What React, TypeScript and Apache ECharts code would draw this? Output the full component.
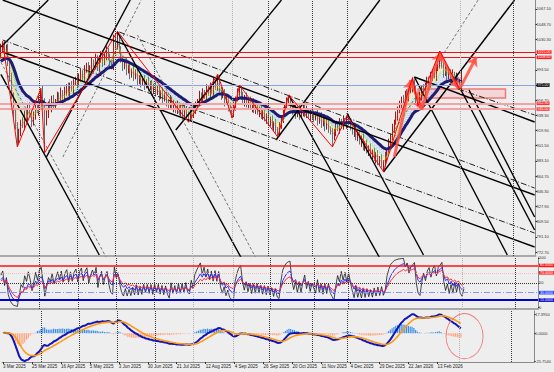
import React, { useEffect, useRef } from "react";
import * as echarts from "echarts";

// ---------- categories / tick labels ----------
const dateLabels = [
  "3 Mar 2025", "25 Mar 2025", "16 Apr 2025", "5 May 2025", "3 Jun 2025", "30 Jun 2025",
  "21 Jul 2025", "12 Aug 2025", "4 Sep 2025", "26 Sep 2025", "20 Oct 2025", "11 Nov 2025",
  "4 Dec 2025", "29 Dec 2025", "22 Jan 2026", "13 Feb 2026",
];
const barsPerLabel = 16;
const slotCount = 294;

const priceTicks = [1067.1, 1048.7, 1030.3, 1011.9, 993.5, 975.1, 956.7, 938.3, 919.9, 901.5, 883.1, 864.7, 846.3, 827.9, 809.5, 791.1, 772.7];
const hiddenTickLabels = [1011.9, 975.1];
const priceMin = 767.9;
const priceMax = 1078;

// ---------- price data (daily) ----------
const firstOpen = 1012;
const closes = [
  1019, 1024, 1015, 1021, 1003, 985, 962, 940, 925, 908,
  918, 930, 926, 940, 935, 948, 942, 930, 938, 950, 944, 958, 965, 955, 930,
  940, 952, 948, 958, 950, 955, 962, 958, 966,
  960, 968, 972, 966, 975, 970, 978, 982, 976,
  985, 990, 984, 993, 998, 990, 996, 1002,
  1000, 1008, 996, 1005, 1012, 1003, 1010, 1016,
  1008, 1000, 998, 1032, 1022, 1030,
  1018, 1005, 998, 1003, 992, 996, 988, 992,
  985, 990, 980, 984, 977, 982, 975, 979,
  972, 976, 968, 973, 966, 970, 962, 966,
  958, 962, 955, 950, 957, 948, 952, 945, 950, 942, 947, 940, 945, 938,
  936, 942, 938, 946, 950,
  955, 962, 958, 966, 962, 970, 965, 973, 968, 978, 972, 982,
  970, 962, 966, 955, 958, 948, 945, 940,
  950, 958, 965, 970,
  962, 955, 960, 952, 956, 948, 953, 945, 950, 942, 946, 938, 942, 934, 938, 930, 933, 925, 928, 920, 918,
  925, 935, 942, 950, 955, 958,
  950, 944, 948, 940, 945, 938, 943, 948, 940, 944, 937, 941,
  938, 935, 940, 932, 936, 928, 933, 925, 930, 922, 918, 912,
  918, 925, 922, 930, 926, 932, 928, 934, 930,
  925, 918, 922, 912, 915, 906, 910, 900, 904, 895, 898,
  890, 894, 886, 890, 882, 886, 878, 880,
  888, 895, 905, 912, 922, 930, 938, 945,
  950, 958, 955, 964, 960, 968, 972, 978,
  968, 958, 955,
  962, 970, 966, 975, 980, 976, 985, 990, 986, 996, 1000, 1008,
  998, 990, 994, 985, 990, 982, 988, 980, 985, 976, 972, 975,
];
const upperWicks = [
  6, 4, 5, 3, 4, 3, 5, 4, 6, 5, 4, 3, 6, 4, 5, 3, 6, 4, 5, 3,
  5, 4, 6, 10, 4, 5, 3, 6, 4, 5, 3, 5, 4, 6, 3, 5, 4, 6, 3, 5,
  4, 3, 6, 4, 5, 3, 6, 4, 5, 3, 6, 4, 5, 3, 6, 4, 5, 3, 6, 4,
  5, 6, 4, 5, 10, 6, 4, 5, 3, 6, 4, 5, 3, 6, 4, 5, 3, 6, 4, 5,
  3, 6, 4, 5, 3, 6, 4, 5, 3, 6, 4, 5, 3, 6, 4, 5, 3, 6, 4, 5,
  3, 6, 4, 5, 3, 6, 4, 5, 3, 6, 4, 5, 3, 6, 4, 5, 3, 6, 4, 6,
  5, 3, 6, 4, 5, 3, 6, 4, 5, 3, 6, 5, 4, 5, 3, 6, 4, 5, 3, 6,
  4, 5, 3, 6, 4, 5, 3, 6, 4, 5, 3, 6, 4, 5, 3, 6, 4, 5, 5, 4,
  6, 3, 5, 4, 6, 3, 5, 4, 6, 3, 5, 4, 6, 3, 5, 4, 6, 3, 5, 4,
  6, 3, 5, 4, 6, 3, 5, 4, 6, 3, 4, 6, 3, 5, 4, 6, 3, 5, 4, 6,
  3, 5, 4, 6, 3, 5, 4, 6, 3, 5, 4, 6, 3, 5, 4, 6, 3, 5, 4, 6,
  3, 5, 4, 6, 3, 5, 6, 4, 6, 3, 5, 4, 6, 3, 5, 4, 6, 3, 5, 4,
  6, 8, 5, 4, 6, 3, 5, 4, 6, 3, 5, 4, 6, 18,
];
const lowerWicks = [
  5, 4, 6, 3, 5, 6, 4, 5, 4, 8, 4, 5, 3, 6, 4, 5, 3, 6, 4, 5,
  3, 6, 4, 5, 37, 4, 5, 3, 6, 4, 5, 3, 6, 4, 5, 3, 6, 4, 5, 3,
  6, 4, 5, 3, 6, 4, 5, 3, 6, 4, 5, 3, 6, 4, 5, 3, 6, 4, 5, 3,
  6, 4, 5, 3, 4, 5, 3, 6, 4, 5, 3, 6, 4, 5, 3, 6, 4, 5, 3, 6,
  4, 5, 3, 6, 4, 5, 3, 6, 4, 5, 3, 6, 4, 5, 3, 6, 4, 5, 3, 6,
  4, 5, 3, 6, 4, 5, 3, 6, 4, 5, 3, 6, 4, 5, 3, 6, 4, 5, 3, 4,
  4, 5, 3, 6, 4, 5, 3, 5, 4, 6, 3, 4, 5, 3, 6, 4, 5, 3, 6, 4,
  5, 3, 6, 4, 5, 3, 6, 4, 5, 3, 6, 4, 6, 5, 3, 6, 4, 5, 3, 4,
  5, 3, 6, 4, 5, 3, 6, 4, 5, 3, 6, 4, 5, 3, 6, 4, 5, 3, 6, 4,
  5, 3, 12, 4, 5, 3, 6, 4, 5, 3, 6, 4, 5, 3, 6, 4, 5, 3, 6, 4,
  5, 3, 6, 4, 5, 3, 6, 4, 5, 3, 8, 4, 5, 3, 6, 4, 5, 3, 6, 4,
  5, 3, 6, 4, 5, 3, 6, 4, 5, 5, 3, 6, 4, 5, 3, 6, 4, 5, 3, 6,
  4, 5, 3, 6, 4, 5, 3, 6, 4, 5, 3, 6, 3, 4,
];

// indicator settings
const maSeed = 1002;
const rainbowPeriods = [2, 3, 4, 5, 6, 7, 8, 9, 10, 11, 12, 14, 16, 18];
const navyPeriod = 21;
const rsiPeriods = [3, 7, 12];
const rsiSeedAvg = 4;

// ---------- drawn objects (bar index, price) ----------
const zigzagPivots = [1, 9, 22, 24, 64, 103, 119, 127, 131, 152, 158, 182, 190, 210, 226, 229, 241, 252];
const arrowSegments = [
  [216, 888, 225, 981],
  [225, 981, 231, 945],
  [231, 945, 241, 1014],
  [241, 1014, 251, 971],
  [252, 971, 261, 1009],
];
const thickLines = [
  [1, 1078, 293, 841.8],
  [1, 1015, 293, 778.8],
  [227, 984.7, 293, 930.2],
  [64, 1039.2, 132, 765.4],
  [0, 988, 54, 769.1],
  [158, 962.9, 208, 765.4],
  [227, 984.7, 278, 769.1],
  [252, 971.4, 293, 799.4],
  [257, 969, 293, 815.1],
  [190, 941.1, 232, 769.1],
  [0, 1021.1, 26, 1078],
  [25, 887.8, 71, 1078],
  [96, 920.5, 154, 1078],
  [151, 908.4, 208, 1078],
  [210, 869.6, 282, 1078],
];
const dashDotLines = [
  [65, 1039.2, 293, 850.2],
  [1, 1029.5, 293, 795.7],
  [251, 970.2, 293, 938.7],
];
const grayLines = [
  [75, 1035.6, 140, 765.4],
  [0, 1002.6, 58, 765.4],
  [34, 887.8, 77, 1078],
  [215, 916.9, 262, 1078],
];
const levelPrices = [1015.0, 1008.6, 952.9, 946.0];
const boxIdx = [229, 277];
const boxPrices = [970.2, 959.3];
const separatorIdx = [21, 42, 63, 84, 105, 127, 147, 171, 190, 252, 281];
const separatorLight = [false, false, false, false, true, true, false, false, false, true, false];
const rsiLevels = [85, 70, 50, 30, 15];
const circleAnchor = [255, 0];

const FONT = "Liberation Sans";

function ema(src: number[], period: number, seed: number) {
  const k = 2 / (period + 1);
  let p = seed;
  return src.map((v) => {
    p = p + k * (v - p);
    return +p.toFixed(3);
  });
}

function rsi(src: number[], period: number) {
  let ag = rsiSeedAvg;
  let al = rsiSeedAvg;
  return src.map((v, i) => {
    const prev = i === 0 ? firstOpen : src[i - 1];
    const d = v - prev;
    ag = (ag * (period - 1) + Math.max(d, 0)) / period;
    al = (al * (period - 1) + Math.max(-d, 0)) / period;
    return +(al === 0 ? 100 : 100 - 100 / (1 + ag / al)).toFixed(3);
  });
}

function buildOption() {
  const n = closes.length;
  const opens = closes.map((c, i) => (i === 0 ? firstOpen : closes[i - 1]));
  const highs = closes.map((c, i) => Math.max(opens[i], c) + (upperWicks[i] ?? 3));
  const lows = closes.map((c, i) => Math.min(opens[i], c) - (lowerWicks[i] ?? 3));
  const candleData = closes.map((c, i) => [opens[i], c, lows[i], highs[i]]);
  const categories = Array.from({ length: slotCount }, (_, i) => String(i));
  const lastClose = closes[n - 1];

  const rsiLines = rsiPeriods.map((p) => rsi(closes, p));

  const e12 = ema(closes, 12, closes[0]);
  const e26 = ema(closes, 26, closes[0]);
  const macd = e12.map((v, i) => +(v - e26[i]).toFixed(4));
  const signal = ema(macd, 9, 0);
  const hist = macd.map((v, i) => +(v - signal[i]).toFixed(4));
  const mMin = Math.min(...macd, ...signal, ...hist);
  const mMax = Math.max(...macd, ...signal, ...hist);
  const mSpan = mMax - mMin;

  const grids = [
    { left: -3, right: 16, top: 0, height: 256 },
    { left: -3, right: 16, top: 257, height: 52 },
    { left: -3, right: 16, top: 311, height: 51 },
  ];
  const labelInterval = (idx: number) => idx % barsPerLabel === 0 && idx / barsPerLabel < dateLabels.length;

  const xAxes = [0, 1, 2].map((gi) => ({
    type: "category",
    gridIndex: gi,
    data: categories,
    boundaryGap: true,
    axisLine: { show: true, onZero: false, lineStyle: { color: gi === 2 ? "#8a8a8a" : "#a8a8a8", width: gi === 2 ? 1 : 2 } },
    axisTick: gi === 2
      ? { show: true, interval: labelInterval, alignWithLabel: true, length: 2, lineStyle: { color: "#333" } }
      : { show: false },
    axisLabel: gi === 2
      ? {
          show: true,
          interval: labelInterval,
          formatter: (v: string) => dateLabels[Number(v) / barsPerLabel] ?? "",
          fontSize: 4.5,
          color: "#222",
          align: "left",
          margin: 2,
          fontFamily: FONT,
        }
      : { show: false },
    splitLine: { show: false },
  }));

  const visibleTickLabels = priceTicks.filter((t) => !hiddenTickLabels.includes(t));

  const yAxes = [
    {
      type: "value",
      gridIndex: 0,
      position: "right",
      min: priceMin,
      max: priceMax,
      axisLine: { show: true, lineStyle: { color: "#8a8a8a" } },
      axisTick: { show: true, customValues: priceTicks, length: 1.5, lineStyle: { color: "#333" } },
      axisLabel: { show: true, customValues: visibleTickLabels, formatter: (v: number) => v.toFixed(2), fontSize: 4, color: "#333", margin: 1, fontFamily: FONT },
      splitLine: { show: false },
    },
    {
      type: "value",
      gridIndex: 1,
      position: "right",
      min: -3,
      max: 102,
      axisLine: { show: true, lineStyle: { color: "#8a8a8a" } },
      axisTick: { show: true, customValues: [0, 50, 100], length: 1.5, lineStyle: { color: "#333" } },
      axisLabel: { show: true, customValues: [0, 50, 100], formatter: (v: number) => String(v), fontSize: 4, color: "#333", margin: 1, fontFamily: FONT },
      splitLine: { show: false },
    },
    {
      type: "value",
      gridIndex: 2,
      position: "right",
      min: mMin - mSpan * 0.02,
      max: mMax + mSpan * 0.07,
      axisLine: { show: true, lineStyle: { color: "#8a8a8a" } },
      axisTick: { show: true, customValues: [mMin, 0, mMax], length: 1.5, lineStyle: { color: "#333" } },
      axisLabel: { show: true, customValues: [mMin, 0, mMax], formatter: (v: number) => v.toFixed(4), fontSize: 4, color: "#333", margin: 1, fontFamily: FONT },
      splitLine: { show: false },
    },
  ];

  const separators = separatorIdx.map((x, k) => ({
    xAxis: x,
    lineStyle: { color: separatorLight[k] ? "#b4b4b4" : "#3a3a3a", type: "dotted", width: 1 },
  }));
  const sepMarkLine = { silent: true, symbol: ["none", "none"], label: { show: false }, animation: false, data: separators };

  const boxLabel = (text: string, bg: string) => ({
    show: true,
    position: "end",
    distance: 1,
    formatter: text,
    color: "#fff",
    backgroundColor: bg,
    fontSize: 3.6,
    lineHeight: 3.6,
    padding: [0, 1, 0, 1],
    fontFamily: FONT,
  });

  const levelStyles = [
    { color: "#ee1111", width: 1, bg: "#ff1a1a" },
    { color: "#ee1111", width: 1, bg: "#ff1a1a" },
    { color: "#f3a3a3", width: 2, bg: "#ff3030" },
    { color: "#f3a3a3", width: 2, bg: "#ff3030" },
  ];
  const priceLevelLines: any[] = levelPrices.map((p, k) => ({
    yAxis: p,
    lineStyle: { color: levelStyles[k].color, width: levelStyles[k].width, type: "solid" },
    label: boxLabel(p.toFixed(2), levelStyles[k].bg),
  }));
  priceLevelLines.push({
    yAxis: lastClose,
    lineStyle: { color: "#8fa2e2", width: 1, type: "solid" },
    label: boxLabel(lastClose.toFixed(2), "#000000"),
  });

  const rsiStyles = [
    { color: "#ff1010", width: 1.5, type: "solid", bg: "#ff1010", box: true },
    { color: "#f6c0c0", width: 1, type: "dotted", bg: "#ff2a2a", box: true },
    { color: "#333333", width: 1, type: "dotted", bg: "", box: false },
    { color: "#8f8fff", width: 1, type: [6, 2, 1, 2], bg: "#1f3cff", box: true },
    { color: "#0000cc", width: 2, type: "solid", bg: "#0000cc", box: true },
  ];
  const rsiLevelLines = rsiLevels.map((lv, k) => ({
    yAxis: lv,
    lineStyle: { color: rsiStyles[k].color, width: rsiStyles[k].width, type: rsiStyles[k].type },
    label: rsiStyles[k].box ? boxLabel(lv.toFixed(4), rsiStyles[k].bg) : { show: false },
  }));

  const rainbowColors = [
    "#ff2020", "#ff5a1f", "#ff8c1a", "#ffb31a", "#ffd91a", "#e6f01a", "#a8e61a",
    "#55d11a", "#1ac24a", "#1ac2a0", "#1aa8e0", "#1a7de6", "#3355ee", "#5a4ae6",
  ];

  const series: any[] = [];
  rainbowPeriods.forEach((p, k) => {
    series.push({
      type: "line", xAxisIndex: 0, yAxisIndex: 0, data: ema(closes, p, maSeed),
      showSymbol: false, symbol: "none", silent: true,
      lineStyle: { color: rainbowColors[k], width: 0.7, type: [1, 1.5], opacity: 0.6 },
    });
  });

  series.push({
    type: "candlestick", xAxisIndex: 0, yAxisIndex: 0, data: candleData, barWidth: 1.2, silent: true,
    itemStyle: { color: "#9e1616", color0: "#587679", borderColor: "#9e1616", borderColor0: "#587679", borderWidth: 1 },
    markLine: { silent: true, symbol: ["none", "none"], animation: false, data: priceLevelLines },
    markArea: {
      silent: true,
      itemStyle: { color: "rgba(255,170,170,0.35)", borderColor: "#f07878", borderWidth: 1.5 },
      data: [[{ coord: [boxIdx[0], boxPrices[0]] }, { coord: [boxIdx[1], boxPrices[1]] }]],
    },
  });

  series.push({
    type: "line", xAxisIndex: 0, yAxisIndex: 0, data: ema(closes, navyPeriod, maSeed),
    showSymbol: false, symbol: "none", silent: true, z: 3,
    lineStyle: { color: "#1c1c72", width: 3 },
    markLine: sepMarkLine,
  });

  const seg = (pts: number[], color: string, width: number, type: any) => ({
    type: "line", xAxisIndex: 0, yAxisIndex: 0,
    data: [[pts[0], pts[1]], [pts[2], pts[3]]],
    showSymbol: false, symbol: "none", silent: true, clip: true, z: 4,
    lineStyle: { color, width, type },
  });
  thickLines.forEach((l) => series.push(seg(l, "#000000", 1.4, "solid")));
  dashDotLines.forEach((l) => series.push(seg(l, "#222222", 1, [6, 2, 1, 2])));
  grayLines.forEach((l) => series.push(seg(l, "#555555", 0.8, [3, 2])));

  series.push({
    type: "line", xAxisIndex: 0, yAxisIndex: 0,
    data: zigzagPivots.map((i, k) => [i, k % 2 === 0 ? highs[i] : lows[i]]),
    showSymbol: false, symbol: "none", silent: true, z: 5,
    lineStyle: { color: "#ff0000", width: 1 },
    markLine: {
      silent: true, symbol: ["none", "arrow"], symbolSize: 9, animation: false,
      label: { show: false },
      lineStyle: { color: "#ff5040", width: 3, type: "solid", opacity: 0.85 },
      data: arrowSegments.map((a) => [{ coord: [a[0], a[1]] }, { coord: [a[2], a[3]] }]),
    },
  });

  // oscillator panel
  const oscColors = ["#1a1a1a", "#2f2fff", "#ff2f2f"];
  rsiLines.forEach((d, k) => {
    series.push({
      type: "line", xAxisIndex: 1, yAxisIndex: 1, data: d,
      showSymbol: false, symbol: "none", silent: true,
      lineStyle: { color: oscColors[k], width: k === 0 ? 0.8 : 1 },
      markLine: k === 0
        ? sepMarkLine
        : k === 2
          ? { silent: true, symbol: ["none", "none"], animation: false, data: rsiLevelLines }
          : undefined,
    });
  });

  // MACD panel
  series.push({
    type: "bar", xAxisIndex: 2, yAxisIndex: 2, barWidth: 1.2, silent: true,
    data: hist.map((v) => ({ value: v, itemStyle: { color: v >= 0 ? "#3c8fe6" : "#ffa585" } })),
  });
  series.push({
    type: "line", xAxisIndex: 2, yAxisIndex: 2, data: macd,
    showSymbol: false, symbol: "none", silent: true,
    lineStyle: { color: "#1414b8", width: 2 },
    markLine: sepMarkLine,
  });
  series.push({
    type: "line", xAxisIndex: 2, yAxisIndex: 2, data: signal,
    showSymbol: false, symbol: "none", silent: true,
    lineStyle: { color: "#ff9a10", width: 1.6 },
    markPoint: {
      silent: true, animation: false,
      label: { show: false },
      data: [{
        coord: circleAnchor, symbol: "circle", symbolSize: [37, 45], symbolOffset: [0, 3],
        itemStyle: { color: "rgba(0,0,0,0)", borderColor: "#f07a7a", borderWidth: 1 },
      }],
    },
  });

  return {
    animation: false,
    backgroundColor: "#eeeeee",
    textStyle: { fontFamily: FONT },
    grid: grids,
    xAxis: xAxes,
    yAxis: yAxes,
    series,
  };
}

export default function App() {
  const ref = useRef<HTMLDivElement>(null);
  useEffect(() => {
    if (!ref.current) return;
    const chart = echarts.init(ref.current, undefined, { renderer: "svg" });
    chart.setOption(buildOption() as any);
    return () => chart.dispose();
  }, []);
  return (
    <div
      ref={ref}
      style={{ position: "absolute", left: 0, top: 0, width: 554, height: 372, background: "#eeeeee" }}
    />
  );
}
